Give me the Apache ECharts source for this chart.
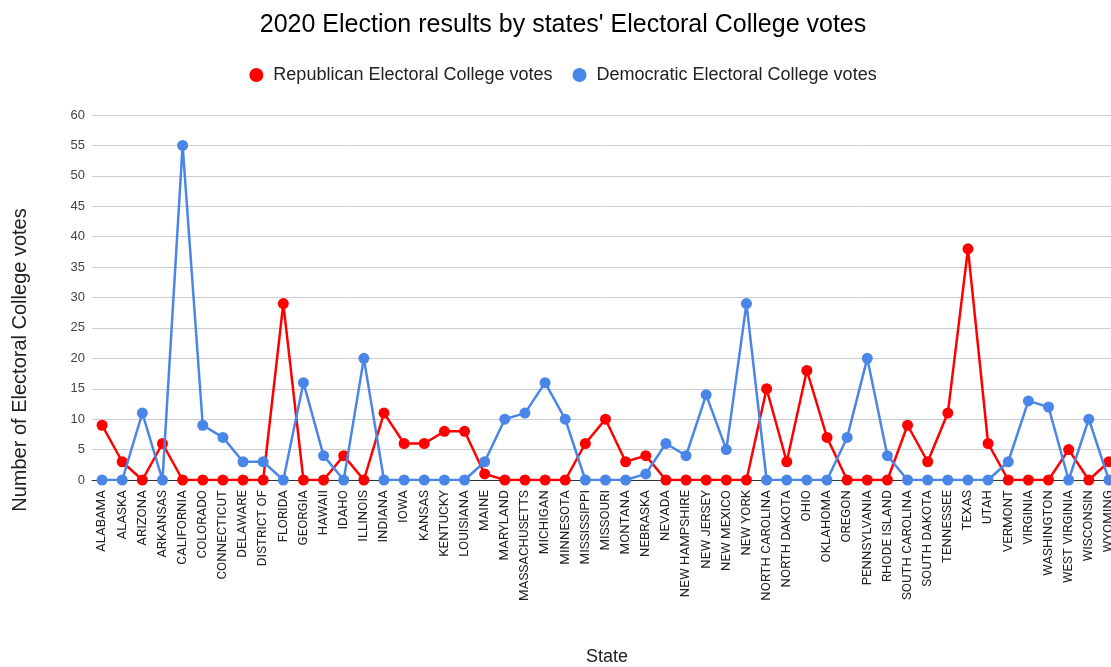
<!DOCTYPE html>
<html>
<head>
<meta charset="utf-8">
<script src="https://cdn.jsdelivr.net/npm/echarts@6/dist/echarts.min.js"></script>
<style>
  html, body { margin: 0; padding: 0; background: #fff; overflow: hidden; }
  #chart { width: 1126px; height: 667px; }
</style>
</head>
<body>
<div id="chart"></div>
<script>
// States in alphabetical order
const states = [
  'ALABAMA', 'ALASKA', 'ARIZONA', 'ARKANSAS', 'CALIFORNIA', 'COLORADO', 'CONNECTICUT',
  'DELAWARE', 'DISTRICT OF', 'FLORIDA', 'GEORGIA', 'HAWAII', 'IDAHO', 'ILLINOIS',
  'INDIANA', 'IOWA', 'KANSAS', 'KENTUCKY', 'LOUISIANA', 'MAINE', 'MARYLAND',
  'MASSACHUSETTS', 'MICHIGAN', 'MINNESOTA', 'MISSISSIPPI', 'MISSOURI', 'MONTANA',
  'NEBRASKA', 'NEVADA', 'NEW HAMPSHIRE', 'NEW JERSEY', 'NEW MEXICO', 'NEW YORK',
  'NORTH CAROLINA', 'NORTH DAKOTA', 'OHIO', 'OKLAHOMA', 'OREGON', 'PENNSYLVANIA',
  'RHODE ISLAND', 'SOUTH CAROLINA', 'SOUTH DAKOTA', 'TENNESSEE', 'TEXAS', 'UTAH',
  'VERMONT', 'VIRGINIA', 'WASHINGTON', 'WEST VIRGINIA', 'WISCONSIN', 'WYOMING'
];

// Electoral College votes won by each party
const republicanVotes = [
  9, 3, 0, 6, 0, 0, 0, 0, 0, 29, 0, 0, 4, 0, 11, 6, 6, 8, 8, 1, 0, 0, 0, 0, 6, 10, 3,
  4, 0, 0, 0, 0, 0, 15, 3, 18, 7, 0, 0, 0, 9, 3, 11, 38, 6, 0, 0, 0, 5, 0, 3
];
const democraticVotes = [
  0, 0, 11, 0, 55, 9, 7, 3, 3, 0, 16, 4, 0, 20, 0, 0, 0, 0, 0, 3, 10, 11, 16, 10, 0, 0, 0,
  1, 6, 4, 14, 5, 29, 0, 0, 0, 0, 7, 20, 4, 0, 0, 0, 0, 0, 3, 13, 12, 0, 10, 0
];

const yTicks = { min: 0, max: 60, step: 5 };

const chart = echarts.init(document.getElementById('chart'));
const baseFont = 'Liberation Sans, Arial, sans-serif';
const labelFont = 'Roboto, Liberation Sans, sans-serif';

chart.setOption({
  animation: false,
  backgroundColor: '#ffffff',
  title: {
    text: "2020 Election results by states' Electoral College votes",
    left: 'center',
    top: 8,
    textStyle: { fontFamily: baseFont, fontSize: 25, fontWeight: 'normal', color: '#000' }
  },
  legend: {
    top: 61,
    left: 'center',
    itemGap: 20,
    itemWidth: 14,
    itemHeight: 14,
    icon: 'circle',
    textStyle: { fontFamily: baseFont, fontSize: 18, color: '#222', padding: [0, 0, 0, 5] }
  },
  grid: { left: 92, right: 7, top: 115, bottom: 187 },
  xAxis: {
    type: 'category',
    data: states,
    boundaryGap: true,
    axisLine: { lineStyle: { color: '#333', width: 1 } },
    axisTick: { show: false },
    axisLabel: {
      rotate: 90,
      interval: 0,
      margin: 10,
      fontFamily: labelFont,
      fontSize: 13.3,
      color: '#222'
    }
  },
  yAxis: {
    type: 'value',
    min: yTicks.min,
    max: yTicks.max,
    interval: yTicks.step,
    axisLine: { show: false },
    axisTick: { show: false },
    splitLine: { lineStyle: { color: '#cccccc', width: 1 } },
    axisLabel: { fontFamily: baseFont, fontSize: 13, color: '#444', margin: 7 }
  },
  graphic: [
    {
      type: 'text',
      rotation: Math.PI / 2,
      x: 20, y: 360,
      style: {
        text: 'Number of Electoral College votes',
        fontFamily: baseFont, fontSize: 20, fill: '#222',
        textAlign: 'center', textVerticalAlign: 'middle'
      }
    },
    {
      type: 'text',
      x: 607, y: 657,
      style: {
        text: 'State',
        fontFamily: baseFont, fontSize: 18, fill: '#222',
        textAlign: 'center', textVerticalAlign: 'middle'
      }
    }
  ],
  series: [
    {
      name: 'Republican Electoral College votes',
      type: 'line',
      data: republicanVotes,
      color: '#ff0000',
      symbol: 'circle',
      symbolSize: 11,
      lineStyle: { width: 2.5 },
      z: 2
    },
    {
      name: 'Democratic Electoral College votes',
      type: 'line',
      data: democraticVotes,
      color: '#4a86e8',
      symbol: 'circle',
      symbolSize: 11,
      lineStyle: { width: 2.5 },
      z: 3
    }
  ]
});
</script>
</body>
</html>
